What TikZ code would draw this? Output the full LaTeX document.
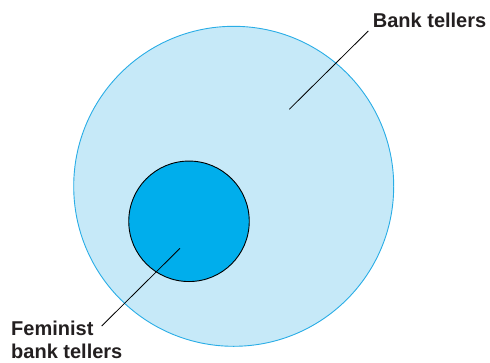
\documentclass[tikz,border=0pt]{standalone}
\usepackage{fontspec}
\setmainfont{Liberation Sans}
\definecolor{bigfill}{HTML}{C6E9F8}
\definecolor{bigline}{HTML}{29ADE6}
\definecolor{smallfill}{HTML}{00AEEC}
\definecolor{txt}{HTML}{231F20}
\begin{document}
\begin{tikzpicture}[x=1pt,y=-1pt,
  lbl/.style={font=\fontsize{20}{22.6}\selectfont\bfseries, text=txt, inner sep=0pt, anchor=base west, align=left},
  leader/.style={draw=black, line width=0.8pt}]
\useasboundingbox (0,0) rectangle (490,362);
\node[circle, fill=bigfill, draw=bigline, line width=0.9pt, minimum size=320pt, inner sep=0pt] (big) at (233.7,186.3) {};
\node[circle, fill=smallfill, draw=black, line width=0.9pt, minimum size=120.5pt, inner sep=0pt] (small) at (189,221.3) {};
\node[lbl] (bt) at (372.7,27.3) {Bank tellers};
\node[lbl] (fbt) at (11,358.3) {Feminist\\bank tellers};
\coordinate (btA) at (368.3,31);
\coordinate (btB) at (289.3,109.3);
\coordinate (fA) at (101.7,326);
\coordinate (fB) at (180,248.3);
\draw[leader] (btA) -- (btB);
\draw[leader] (fA) -- (fB);
\end{tikzpicture}
\end{document}
